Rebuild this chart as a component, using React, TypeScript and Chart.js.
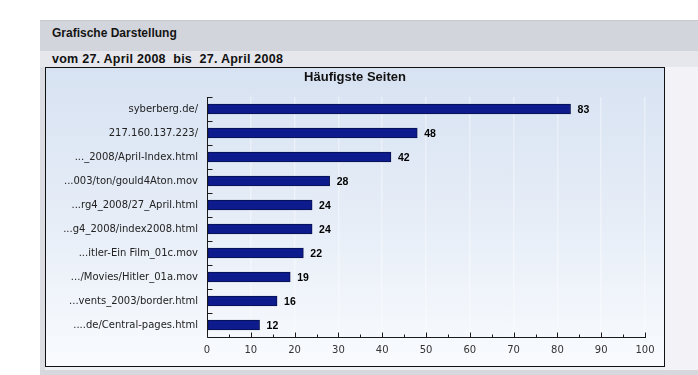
import React, { useEffect, useRef } from "react";
import { Chart, registerables } from "chart.js";

Chart.register(...registerables);

const categories = [
  "syberberg.de/",
  "217.160.137.223/",
  "..._2008/April-Index.html",
  "...003/ton/gould4Aton.mov",
  "...rg4_2008/27_April.html",
  "...g4_2008/index2008.html",
  "...itler-Ein Film_01c.mov",
  ".../Movies/Hitler_01a.mov",
  "...vents_2003/border.html",
  "....de/Central-pages.html",
];
const values = [83, 48, 42, 28, 24, 24, 22, 19, 16, 12];
const xMin = 0;
const xMax = 100;
const xStep = 10;
const chartTitle = "Häufigste Seiten";
const headerTitle = "Grafische Darstellung";
const periodText = "vom 27. April 2008\u00a0 bis\u00a0 27. April 2008";

const CW = 618;
const CH = 298;

const overlayPlugin = {
  id: "overlay",
  afterDraw(chart: any) {
    const ctx = chart.ctx;
    const area = chart.chartArea;
    const xs = chart.scales.x;
    ctx.save();
    // title
    ctx.fillStyle = "#111";
    ctx.font = "bold 13px 'Liberation Sans'";
    ctx.textAlign = "center";
    ctx.textBaseline = "middle";
    ctx.fillText(chartTitle, CW / 2, 9);

    // axes
    ctx.strokeStyle = "#1a1a1a";
    ctx.lineWidth = 1;
    ctx.beginPath();
    const ax = Math.round(area.left) + 0.5;
    const ay = Math.round(area.bottom) + 0.5;
    ctx.moveTo(ax, Math.round(area.top));
    ctx.lineTo(ax, ay);
    ctx.lineTo(Math.round(area.right) + 1, ay);
    for (let v = xMin; v <= xMax; v += xStep / 2) {
      const px = Math.round(xs.getPixelForValue(v)) + 0.5;
      const major = v % xStep === 0;
      ctx.moveTo(px, ay);
      ctx.lineTo(px, ay - (major ? 5 : 3));
    }
    const n = categories.length;
    const step = (area.bottom - area.top) / n;
    for (let i = 0; i < n; i++) {
      const py = Math.round(area.top + i * step) + 0.5;
      ctx.moveTo(ax, py);
      ctx.lineTo(ax + 5, py);
    }
    ctx.stroke();

    // value labels
    const meta = chart.getDatasetMeta(0);
    ctx.fillStyle = "#000";
    ctx.font = "bold 10.5px 'Liberation Sans'";
    ctx.textAlign = "left";
    ctx.textBaseline = "middle";
    meta.data.forEach((bar: any, i: number) => {
      ctx.fillText(String(values[i]), bar.x + 7, bar.y + 1);
    });
    ctx.restore();
  },
};

export default function App() {
  const ref = useRef<HTMLCanvasElement>(null);
  useEffect(() => {
    document.body.style.margin = "0";
    const chart = new Chart(ref.current as HTMLCanvasElement, {
      type: "bar",
      data: {
        labels: categories,
        datasets: [
          {
            data: values,
            backgroundColor: "#0d1b8c",
            borderColor: "#06104f",
            borderWidth: 1,
            borderSkipped: false,
            barThickness: 10,
          },
        ],
      },
      options: {
        indexAxis: "y",
        animation: false,
        responsive: false,
        devicePixelRatio: 1,
        layout: { padding: { top: 29, right: 19, left: 0, bottom: 0 } },
        plugins: {
          legend: { display: false },
          title: { display: false },
          tooltip: { enabled: false },
        },
        scales: {
          x: {
            min: xMin,
            max: xMax,
            ticks: {
              stepSize: xStep,
              color: "#333",
              font: { family: "'DejaVu Sans'", size: 10 },
              padding: 7,
              maxRotation: 0,
            },
            grid: {
              color: (c: any) => (c.tick && c.tick.value === 0 ? "rgba(0,0,0,0)" : "rgba(255,255,255,0.4)"),
              lineWidth: 1.5,
              drawTicks: false,
            },
            border: { display: false },
            afterFit: (s: any) => {
              s.height = 29;
            },
          },
          y: {
            ticks: {
              color: "#222",
              font: { family: "'DejaVu Sans'", size: 10 },
              padding: 9,
            },
            grid: { display: false, drawTicks: false },
            border: { display: false },
            afterFit: (s: any) => {
              s.width = 161;
            },
          },
        },
      } as any,
      plugins: [overlayPlugin],
    });
    return () => chart.destroy();
  }, []);

  return (
    <div style={{ position: "relative", width: 698, height: 375, background: "#fff", overflow: "hidden", fontFamily: "'Liberation Sans', Arial, sans-serif" }}>
      <div style={{ position: "absolute", left: 40, top: 20, width: 658, height: 31, background: "#d3d5dc", borderTop: "1px solid #c8cad1", boxSizing: "border-box" }} />
      <div style={{ position: "absolute", left: 52, top: 25, fontSize: 12, fontWeight: "bold", color: "#141414", lineHeight: "16px" }}>{headerTitle}</div>
      <div style={{ position: "absolute", left: 40, top: 51, width: 658, height: 16, background: "#e6e7ec" }} />
      <div style={{ position: "absolute", left: 52, top: 51, fontSize: 12.5, letterSpacing: 0.25, fontWeight: "bold", color: "#111", lineHeight: "16px", whiteSpace: "pre" }}>{periodText}</div>
      <div style={{ position: "absolute", left: 40, top: 67, width: 5, height: 303, background: "#dcdde2" }} />
      <div style={{ position: "absolute", left: 45, top: 366, width: 620, height: 4, background: "#eef0f3" }} />
      <div style={{ position: "absolute", left: 665, top: 67, width: 33, height: 303, background: "#f3f3f7" }} />
      <div style={{ position: "absolute", left: 40, top: 370, width: 658, height: 5, background: "#d6d8dd" }} />
      <div
        style={{
          position: "absolute",
          left: 45,
          top: 67,
          width: 620,
          height: 300,
          boxSizing: "border-box",
          border: "1px solid #111",
          background: "linear-gradient(to bottom, #d7e2f2 0%, #e6edf7 50%, #f9fbfe 100%)",
        }}
      >
        <canvas ref={ref} width={CW} height={CH} style={{ display: "block", width: CW, height: CH }} />
      </div>
    </div>
  );
}
